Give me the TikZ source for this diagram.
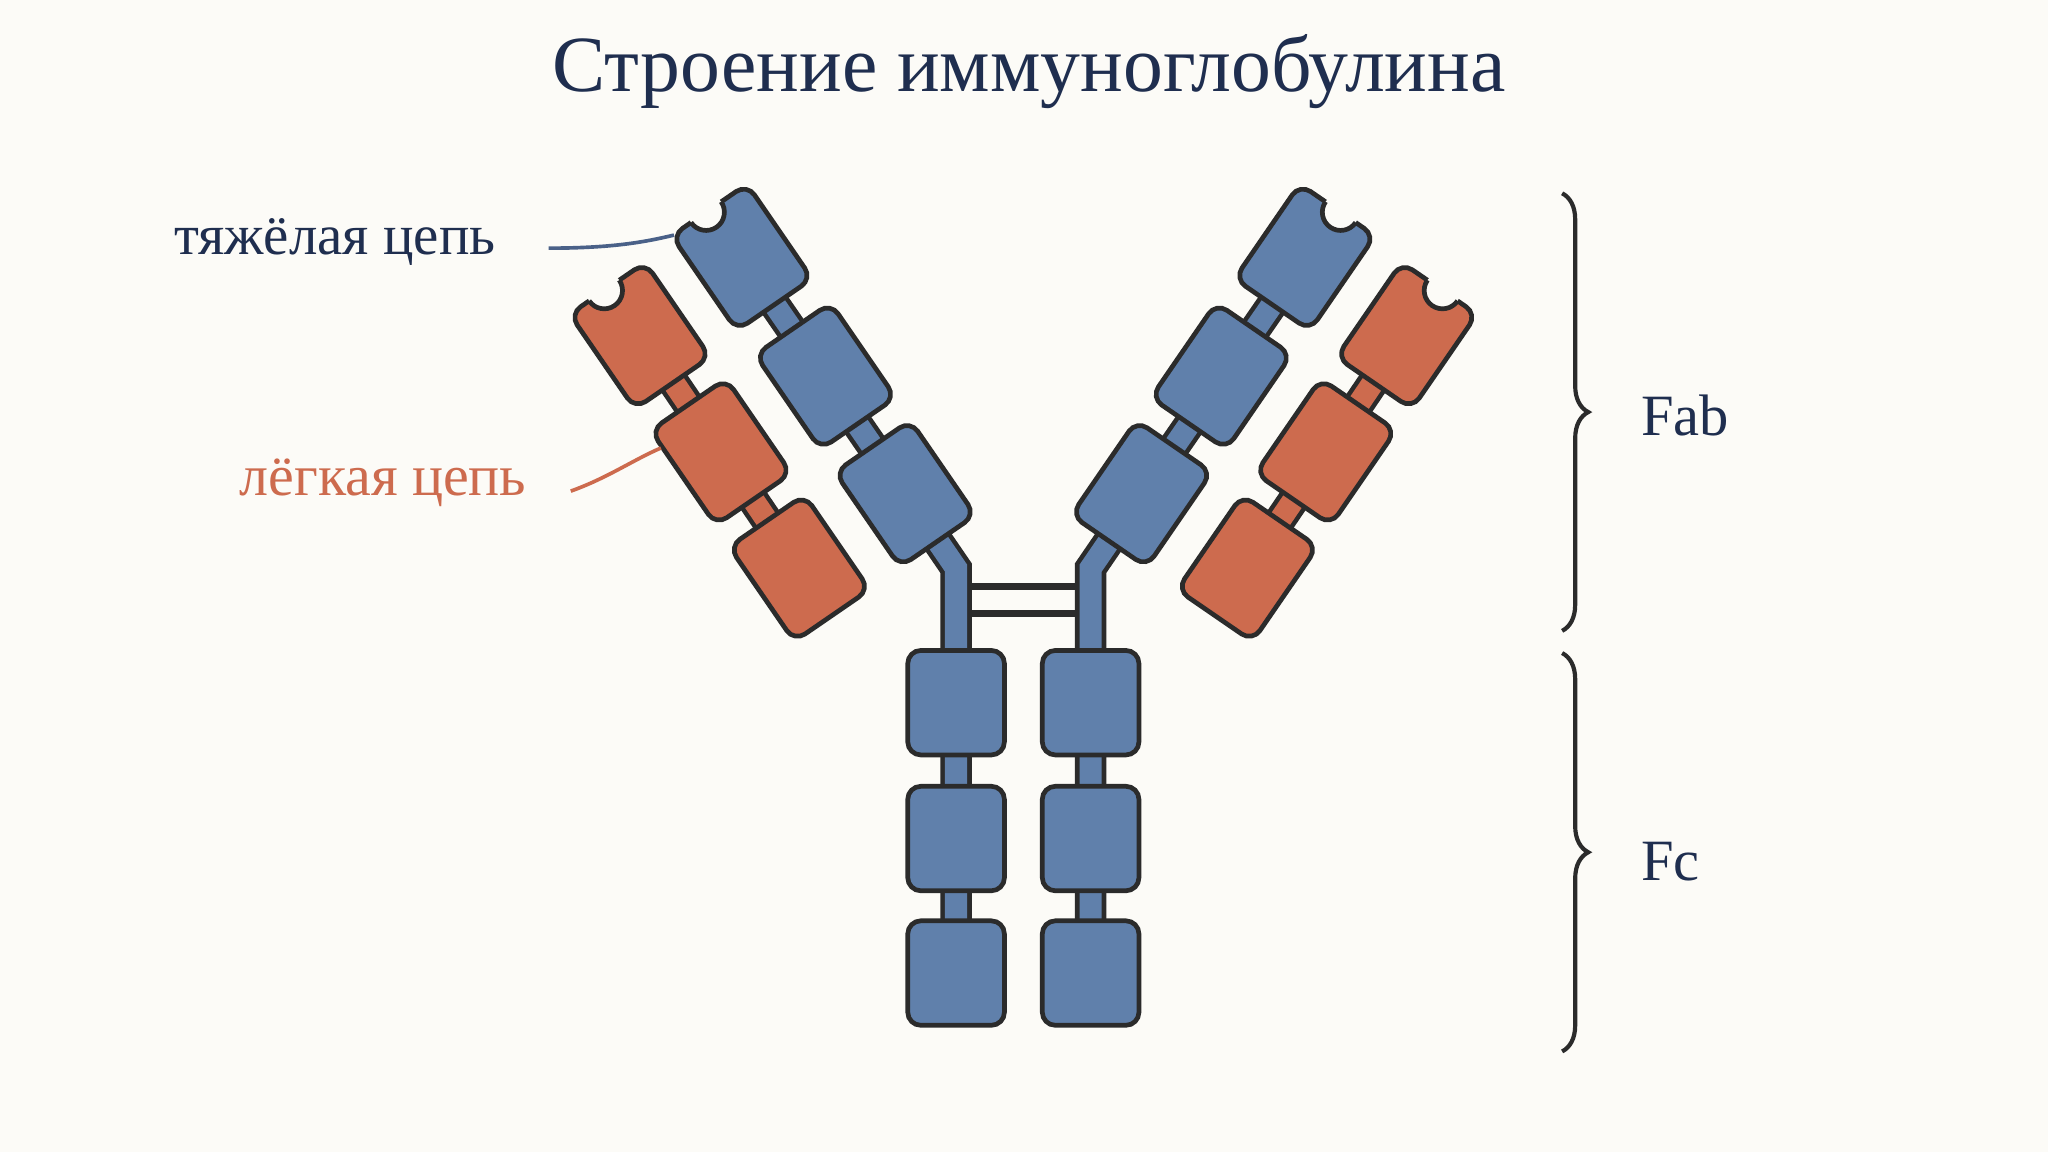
\documentclass[tikz,border=0pt]{standalone}
\usepackage{fontspec}
\setmainfont{Liberation Serif}
\usetikzlibrary{decorations.pathreplacing}
\definecolor{bg}{HTML}{FCFBF7}
\definecolor{hb}{HTML}{6080AB}
\definecolor{lc}{HTML}{CD6B4E}
\definecolor{ol}{HTML}{2B2B2B}
\definecolor{navy}{HTML}{1F2E4F}
\definecolor{lead}{HTML}{4A6188}
\tikzset{
  dom/.style={fill=#1, draw=ol, line width=1.8pt, rounded corners=5pt},
  stemo/.style={draw=ol, line width=12pt},
  stemi/.style={draw=#1, line width=8.5pt},
  br/.style={draw=ol, line width=1.6pt, decorate, decoration={brace, amplitude=10pt}},
}
\newcommand{\dombox}[4]{% x,y,angle,color
  \begin{scope}[shift={(#1,#2)}, rotate=#3]
    \path[dom=#4] (-35,-44) rectangle (35,44);
  \end{scope}}
\newcommand{\notchbox}[5]{% x,y,angle,color,notchx
  \begin{scope}[shift={(#1,#2)}, rotate=#3]
    \path[dom=#4] (-35,-44) rectangle (35,44);
    \fill[bg] (#5,-44) circle (14);
    \draw[ol, line width=1.8pt] (#5-14,-44) arc (180:0:14);
  \end{scope}}
\begin{document}
\begin{tikzpicture}[x=0.5pt,y=-0.5pt]
\fill[bg] (0,0) rectangle (1568,882);
\useasboundingbox (0,0) rectangle (1568,882);
\node[text=navy, font=\fontsize{30.5}{34}\selectfont] (title) at (788,55) {Строение иммуноглобулина};
% stems
\foreach \s in {1,-1}{
  \begin{scope}[shift={({(1-\s)*783.5},0)}, xscale=\s]
    \draw[stemo, line join=miter] (568,197) -- (693,378) -- (732,435) -- (732,745);
    \draw[stemi=hb, line join=miter] (568,197) -- (693,378) -- (732,435) -- (732,745);
    \draw[stemo] (490,255) -- (612,435);
    \draw[stemi=lc] (490,255) -- (612,435);
  \end{scope}}
% disulfide bonds
\draw[ol, line width=2.6pt] (744,449) coordinate (b1) -- (823,449) coordinate (b2);
\draw[ol, line width=2.6pt] (744,470) coordinate (b3) -- (823,470) coordinate (b4);
% left arm
\notchbox{568}{197}{34.5}{hb}{-3}
\dombox{632}{288}{34.5}{hb}
\dombox{693}{378}{34.5}{hb}
\notchbox{490}{257}{34.5}{lc}{-3}
\dombox{552}{346}{34.5}{lc}
\dombox{612}{435}{34.5}{lc}
% right arm
\notchbox{999}{197}{-34.5}{hb}{3}
\dombox{935}{288}{-34.5}{hb}
\dombox{874}{378}{-34.5}{hb}
\notchbox{1077}{257}{-34.5}{lc}{3}
\dombox{1015}{346}{-34.5}{lc}
\dombox{955}{435}{-34.5}{lc}
% Fc
\foreach \y in {538,642,745}{
  \path[dom=hb] (695,\y-40) rectangle (769,\y+40);
  \path[dom=hb] (798,\y-40) rectangle (872,\y+40);}
% labels
\node[anchor=west, text=navy, font=\fontsize{21.8}{24}\selectfont, inner sep=0] (hl) at (133,185) {тяжёлая цепь};
\node[anchor=west, text=lc, font=\fontsize{22.2}{24}\selectfont, inner sep=0] (ll) at (183,370) {лёгкая цепь};
\coordinate (hend) at (516,180);
\coordinate (lend) at (506,343);
\draw[lead, line width=1.4pt] (420,190) .. controls (470,190) and (495,185) .. (hend);
\draw[lc, line width=1.4pt] (437,376) .. controls (465,366) and (485,352) .. (lend);
% braces
\draw[br] (1196,148) -- (1196,483);
\draw[br] (1196,500) -- (1196,805);
\node[anchor=west, text=navy, font=\fontsize{22.4}{24}\selectfont, inner sep=0] (fab) at (1256,318) {Fab};
\node[anchor=west, text=navy, font=\fontsize{22.4}{24}\selectfont, inner sep=0] (fc) at (1256,660) {Fc};
\end{tikzpicture}
\end{document}
